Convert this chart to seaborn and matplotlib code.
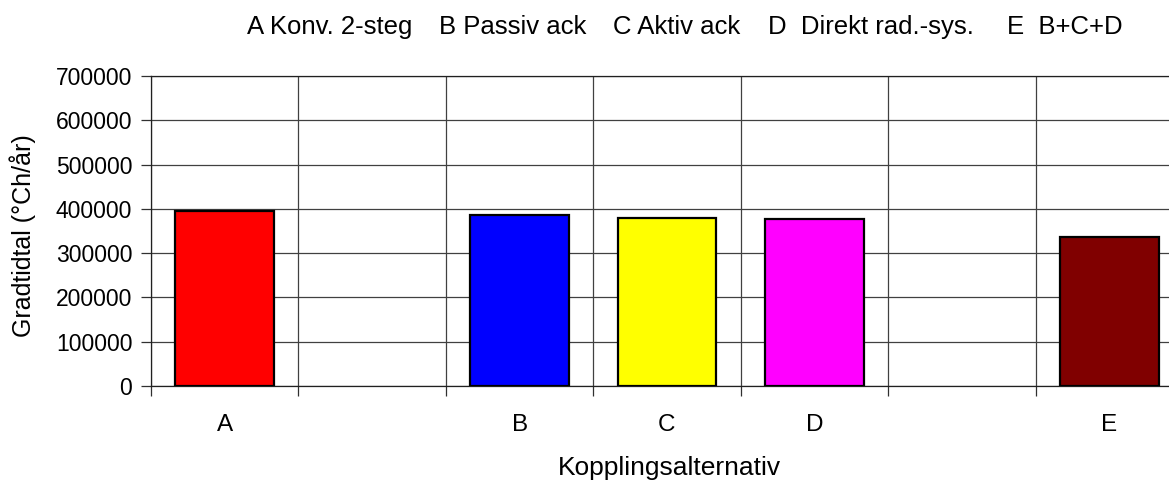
import matplotlib
matplotlib.use("Agg")
import matplotlib.pyplot as plt
import seaborn as sns
import numpy as np

categories = ["A", "B", "C", "D", "E"]
values = [396000, 385000, 378500, 376500, 337500]
slots = ["A", "gap1", "B", "C", "D", "gap2", "E"]
slot_labels = ["A", "", "B", "C", "D", "", "E"]
colors = ["#FF0000", "#0000FF", "#FFFF00", "#FF00FF", "#800000"]
yticks = [0, 100000, 200000, 300000, 400000, 500000, 600000, 700000]
legend_items = ["A Konv. 2-steg", "B Passiv ack", "C Aktiv ack", "D  Direkt rad.-sys.", "E  B+C+D"]
legend_x = [247, 439, 613, 768, 1007]

sns.set_style("white")
plt.rcParams['font.family'] = ['Liberation Sans', 'DejaVu Sans']
plt.rcParams['text.color'] = 'black'
plt.rcParams['axes.labelcolor'] = 'black'
plt.rcParams['xtick.color'] = 'black'
plt.rcParams['ytick.color'] = 'black'

W, H = 1169, 482
fig = plt.figure(figsize=(W / 100, H / 100), dpi=100)
ax = fig.add_axes([151 / W, 96 / H, 1032 / W, 310 / H])

sns.barplot(x=categories, y=values, order=slots, hue=categories, hue_order=categories,
            palette=colors, saturation=1, width=0.67, edgecolor="black", linewidth=1.6,
            legend=False, ax=ax, zorder=3)

ax.set_xlim(-0.5, 6.5)
ax.set_ylim(0, 700000)
ax.set_yticks(yticks)
ax.set_yticklabels([str(v) for v in yticks], fontsize=16.5)
ax.set_xticks(range(len(slots)))
ax.set_xticklabels(slot_labels, fontsize=17.5)
ax.set_xticks(np.arange(-0.5, 7, 1.0), minor=True)
ax.tick_params(axis="x", which="major", length=0, pad=20)
ax.tick_params(axis="x", which="minor", length=7, width=0.9, color="#303030", direction="out", bottom=True)
ax.tick_params(axis="y", which="major", length=7, width=0.9, color="#303030", direction="out", left=True, pad=6.5)

ax.grid(False)
ax.yaxis.grid(True, color="#404040", linewidth=0.9, zorder=0)
ax.xaxis.grid(True, which="minor", color="#404040", linewidth=0.9, zorder=0)
ax.set_axisbelow(True)

for s in ["left", "bottom", "top"]:
    ax.spines[s].set_visible(True)
    ax.spines[s].set_color("#202020")
    ax.spines[s].set_linewidth(0.9)
ax.spines["right"].set_visible(False)

ax.set_ylabel("")
ax.set_xlabel("")
fig.text(23 / W, 1 - 236 / H, "Gradtidtal (°Ch/år)", fontsize=18, rotation=90,
         ha="center", va="center")
fig.text(669 / W, 1 - 475 / H, "Kopplingsalternativ", fontsize=19,
         ha="center", va="baseline")

for txt, x in zip(legend_items, legend_x):
    fig.text(x / W, 1 - 34 / H, txt, fontsize=18.5, ha="left", va="baseline")

fig.savefig("out.png", dpi=100)
